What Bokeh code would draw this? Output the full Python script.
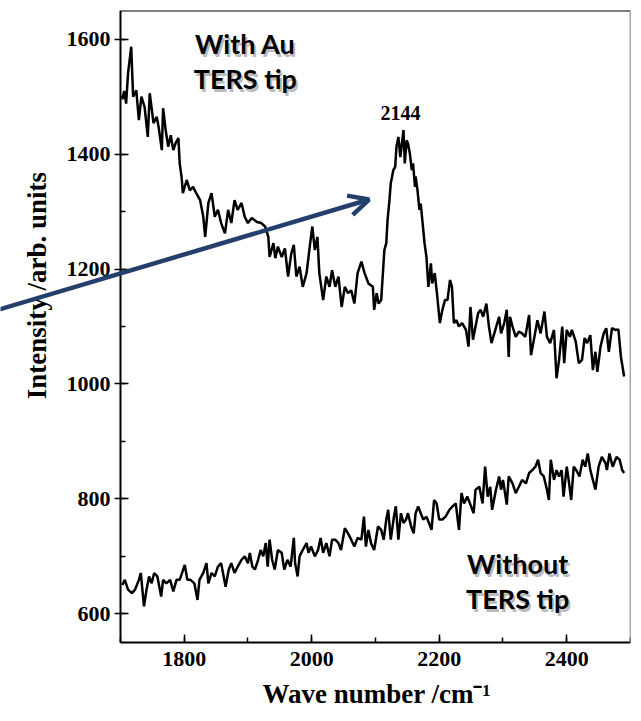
import math
from bokeh.plotting import figure
from bokeh.models import (Range1d, SingleIntervalTicker, FixedTicker, LinearAxis, Arrow, OpenHead,
                          Label, ColumnDataSource)
from bokeh.core.properties import value
from bokeh.embed import file_html
from bokeh.resources import INLINE

# Raman spectrum recorded with the Au TERS tip
wn_tip = [1703, 1706, 1709, 1712, 1717, 1720, 1725, 1729, 1733, 1738, 1743, 1746, 1752, 1757, 1760,
          1765, 1767, 1771, 1775, 1779, 1783, 1787, 1791, 1793, 1796, 1798, 1804, 1809, 1814, 1819,
          1825, 1830, 1833, 1838, 1843, 1848, 1853, 1858, 1864, 1869, 1874, 1879, 1884, 1890, 1895,
          1900, 1906, 1914, 1921, 1927, 1932, 1934, 1940, 1943, 1947, 1953, 1958, 1963, 1968, 1972,
          1976, 1981, 1986, 1992, 1997, 2001, 2005, 2009, 2012, 2018, 2023, 2028, 2032, 2037, 2042,
          2047, 2052, 2057, 2062, 2067, 2072, 2078, 2083, 2089, 2096, 2098, 2102, 2105, 2109, 2111,
          2114, 2117, 2119, 2122, 2124, 2128, 2131, 2133, 2136, 2139, 2144, 2146, 2149, 2151, 2154,
          2157, 2159, 2162, 2163, 2166, 2169, 2171, 2174, 2177, 2180, 2183, 2187, 2189, 2193, 2197,
          2201, 2205, 2209, 2213, 2217, 2220, 2223, 2227, 2231, 2236, 2242, 2246, 2249, 2253, 2257,
          2261, 2265, 2269, 2274, 2278, 2282, 2288, 2294, 2297, 2302, 2306, 2309, 2311, 2315, 2320,
          2325, 2330, 2335, 2341, 2344, 2348, 2354, 2359, 2365, 2369, 2374, 2380, 2384, 2388, 2393,
          2396, 2400, 2405, 2408, 2414, 2419, 2424, 2428, 2432, 2437, 2441, 2445, 2448, 2453, 2458,
          2462, 2466, 2471, 2476, 2481, 2485, 2490]
int_tip = [1495, 1510, 1488, 1540, 1587, 1500, 1511, 1459, 1500, 1482, 1430, 1506, 1454, 1465, 1447,
           1407, 1480, 1442, 1413, 1433, 1407, 1420, 1428, 1384, 1360, 1332, 1355, 1337, 1343, 1332,
           1320, 1291, 1256, 1315, 1332, 1291, 1303, 1280, 1262, 1303, 1280, 1320, 1303, 1315, 1291,
           1280, 1289, 1282, 1280, 1274, 1256, 1221, 1245, 1219, 1239, 1221, 1236, 1187, 1227, 1242,
           1187, 1204, 1169, 1193, 1239, 1274, 1233, 1256, 1193, 1146, 1187, 1169, 1198, 1169, 1187,
           1134, 1169, 1158, 1163, 1140, 1193, 1213, 1193, 1175, 1169, 1129, 1158, 1140, 1146, 1181,
           1233, 1245, 1285, 1320, 1349, 1372, 1378, 1413, 1430, 1395, 1442, 1384, 1424, 1419, 1401,
           1372, 1384, 1343, 1361, 1337, 1303, 1314, 1280, 1245, 1221, 1169, 1210, 1175, 1193, 1152,
           1106, 1129, 1146, 1146, 1181, 1169, 1106, 1111, 1100, 1106, 1094, 1065, 1134, 1077, 1100,
           1123, 1129, 1117, 1140, 1100, 1071, 1094, 1117, 1088, 1106, 1129, 1047, 1117, 1100, 1082,
           1091, 1088, 1082, 1120, 1050, 1074, 1111, 1088, 1126, 1082, 1071, 1094, 1010, 1042, 1100,
           1036, 1094, 1082, 1094, 1074, 1036, 1042, 1080, 1071, 1085, 1024, 1056, 1021, 1065, 1088,
           1097, 1056, 1097, 1094, 1095, 1047, 1013]

# Raman spectrum recorded without the tip
wn_bare = [1703, 1707, 1712, 1718, 1723, 1729, 1732, 1737, 1741, 1745, 1749, 1753, 1758, 1764, 1767,
           1772, 1778, 1783, 1788, 1793, 1801, 1805, 1810, 1816, 1821, 1824, 1830, 1835, 1838, 1843,
           1848, 1853, 1858, 1865, 1870, 1874, 1879, 1884, 1890, 1895, 1900, 1903, 1907, 1911, 1916,
           1920, 1924, 1928, 1931, 1934, 1938, 1942, 1947, 1953, 1957, 1962, 1967, 1972, 1974, 1978,
           1981, 1986, 1992, 1995, 1999, 2005, 2010, 2014, 2018, 2023, 2028, 2032, 2037, 2042, 2046,
           2052, 2057, 2062, 2067, 2072, 2078, 2082, 2085, 2089, 2093, 2098, 2104, 2109, 2113, 2117,
           2120, 2124, 2129, 2132, 2136, 2140, 2144, 2148, 2151, 2156, 2160, 2163, 2167, 2171, 2175,
           2180, 2184, 2188, 2192, 2196, 2200, 2205, 2210, 2216, 2221, 2226, 2231, 2235, 2239, 2244,
           2250, 2254, 2257, 2263, 2268, 2272, 2276, 2280, 2283, 2289, 2294, 2297, 2300, 2306, 2309,
           2315, 2320, 2325, 2330, 2336, 2341, 2346, 2351, 2355, 2359, 2364, 2369, 2372, 2375, 2380,
           2384, 2388, 2392, 2395, 2400, 2403, 2407, 2411, 2415, 2420, 2425, 2429, 2433, 2437, 2441,
           2445, 2450, 2455, 2461, 2463, 2467, 2472, 2478, 2483, 2487, 2490]
int_bare = [650, 659, 642, 636, 642, 659, 671, 613, 642, 665, 653, 671, 665, 630, 659,
            653, 659, 639, 659, 659, 685, 659, 659, 653, 624, 659, 671, 688, 653, 671,
            665, 682, 688, 647, 677, 688, 671, 682, 694, 700, 688, 706, 682, 677, 694,
            711, 700, 723, 682, 729, 694, 677, 711, 706, 677, 694, 682, 732, 688, 665,
            700, 711, 723, 706, 717, 700, 711, 732, 706, 723, 700, 729, 729, 723, 711,
            749, 740, 729, 717, 732, 729, 769, 717, 746, 723, 711, 752, 746, 729, 764,
            781, 729, 769, 787, 729, 775, 758, 764, 775, 752, 740, 775, 787, 775, 764,
            769, 758, 746, 798, 792, 764, 764, 769, 781, 787, 792, 746, 810, 792, 804,
            787, 775, 816, 821, 792, 856, 804, 821, 781, 816, 839, 816, 833, 790, 839,
            827, 810, 821, 833, 827, 845, 850, 856, 868, 845, 839, 816, 798, 868, 833,
            850, 839, 850, 804, 856, 833, 798, 856, 850, 839, 868, 856, 879, 850, 833,
            816, 856, 873, 862, 850, 879, 856, 873, 868, 850, 845]

peak_wn = 2144
peak_label = "2144"

x_lo, x_hi = 1700, 2500     # axis extent, wave number
y_lo, y_hi = 550, 1650      # axis extent, intensity

serif = "Liberation Serif"
sans = "Lato"

# The frame reaches the canvas' left and bottom edges so the pointer arrow and the
# titles can sit outside the axes box; the axes themselves are pinned at x_lo / y_lo.
p = figure(width=641, height=721,
           x_range=Range1d(1512, x_hi), y_range=Range1d(412.5, y_hi),
           output_backend="svg", toolbar_location=None,
           min_border_left=0, min_border_right=11,
           min_border_top=10, min_border_bottom=0)
p.background_fill_color = "white"
p.border_fill_color = "white"
p.outline_line_color = None
p.xgrid.visible = False
p.ygrid.visible = False

p.xaxis.ticker = SingleIntervalTicker(interval=200, num_minor_ticks=2)
p.yaxis.ticker = SingleIntervalTicker(interval=200, num_minor_ticks=2)
p.xaxis.fixed_location = y_lo
p.yaxis.fixed_location = x_lo
p.xaxis.bounds = (x_lo, x_hi)
p.yaxis.bounds = (y_lo, y_hi)

for ax in (p.xaxis[0], p.yaxis[0]):
    ax.axis_line_width = 2
    ax.axis_line_color = "black"
    ax.major_tick_line_width = 1.5
    ax.minor_tick_line_width = 1.5
    ax.major_tick_in = 8
    ax.minor_tick_in = 5
    ax.minor_tick_out = 0
    ax.major_label_text_font = serif
    ax.major_label_text_font_style = "bold"
    ax.major_label_text_font_size = "22px"
    ax.major_label_text_color = "black"

p.xaxis.major_tick_out = 0
p.xaxis.major_label_standoff = 9
p.yaxis.major_tick_out = 6
p.yaxis.major_label_standoff = 4

# top and right edges of the box
p.add_layout(LinearAxis(fixed_location=y_hi, bounds=(x_lo, x_hi), ticker=FixedTicker(ticks=[]),
                        axis_line_width=2, axis_line_color="black"), "above")
p.add_layout(LinearAxis(fixed_location=x_hi, bounds=(y_lo, y_hi), ticker=FixedTicker(ticks=[]),
                        axis_line_width=1.5, axis_line_color="#555555"), "right")

# axis titles
p.add_layout(Label(x=1570, y=1171, text="Intensity /arb. units", angle=math.pi / 2,
                   text_align="center", text_baseline="middle",
                   text_font=serif, text_font_style="bold", text_font_size="27px",
                   text_color="black"))
p.add_layout(Label(x=2102, y=460, text="Wave number /cm\u207b\u00b9",
                   text_align="center", text_baseline="middle",
                   text_font=serif, text_font_style="bold", text_font_size="27px",
                   text_color="black"))

p.line(wn_tip, int_tip, line_color="black", line_width=2.5)
p.line(wn_bare, int_bare, line_color="black", line_width=2.5)

peak_y = int_tip[wn_tip.index(peak_wn)]
p.text(x=[peak_wn], y=[peak_y + 30], text=[peak_label], text_align="center", text_baseline="middle",
       x_offset=-3, text_font=value(serif), text_font_style="bold", text_font_size="20px",
       text_color="black")

# Curve captions with a soft drop shadow
captions = ColumnDataSource(dict(
    x=[1896, 1896, 2323, 2323],
    y=[1592, 1531, 687, 626],
    t=["With Au", "TERS tip", "Without", "TERS tip"],
))
p.text(x="x", y="y", text="t", source=captions, x_offset=2, y_offset=3,
       text_align="center", text_baseline="middle", text_font=value(sans), text_font_style="bold",
       text_font_size="27px", text_color="#808080", text_alpha=0.55)
p.text(x="x", y="y", text="t", source=captions,
       text_align="center", text_baseline="middle", text_font=value(sans), text_font_style="bold",
       text_font_size="27px", text_color="black")

p.add_layout(Arrow(x_start=1505, y_start=1128, x_end=2090, y_end=1321,
                   line_color="#243f6b", line_width=4.5,
                   end=OpenHead(size=20, line_color="#243f6b", line_width=4.5)))

open("out.html", "w").write(file_html(p, INLINE))
